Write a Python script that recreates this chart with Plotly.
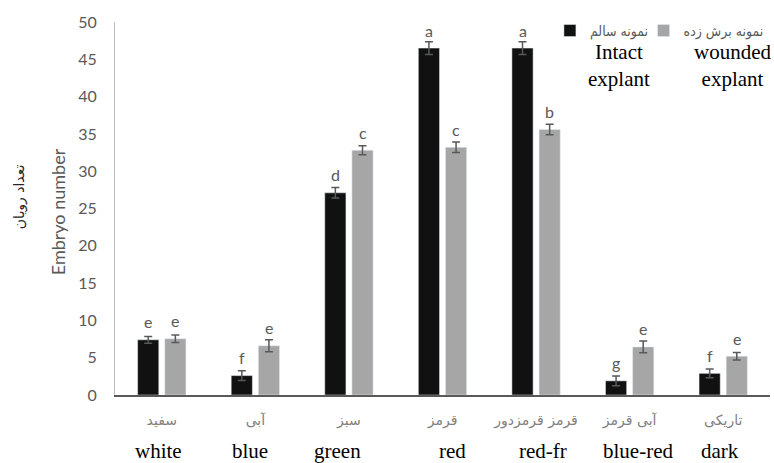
import numpy as np
import plotly.graph_objects as go

# ---- data ----
categories_en = ["white", "blue", "green", "red", "red-fr", "blue-red", "dark"]
categories_fa = ["سفید", "آبی", "سبز", "قرمز", "قرمز قرمزدور", "آبی قرمز", "تاریکی"]
intact = [7.4, 2.6, 27.1, 46.5, 46.5, 1.9, 2.9]
intact_err = [0.45, 0.65, 0.7, 0.85, 0.85, 0.65, 0.6]
intact_letters = ["e", "f", "d", "a", "a", "g", "f"]
wounded = [7.55, 6.6, 32.8, 33.2, 35.6, 6.45, 5.2]
wounded_err = [0.5, 0.8, 0.6, 0.7, 0.7, 0.8, 0.5]
wounded_letters = ["e", "e", "c", "c", "b", "e", "e"]
series_fa = ["نمونه سالم", "نمونه برش زده"]
series_en = ["Intact<br>explant", "wounded<br>explant"]
y_title_en = "Embryo number"
y_title_fa = "تعداد رویان"

# ---- style ----
BARGAP = 0.42
BARGROUPGAP = 0.22
half = (1 - BARGAP) / 4  # center offset of each bar within a group
en_label_xshift = [-3, -5, -11, 10, 7, 8, -3]  # pixel nudges of the English labels

x = np.arange(len(categories_en))
GRAY_TXT = "#595959"
FA_FONT = "DejaVu Sans"
FA_LEG_FONT = "DejaVu Sans Condensed, DejaVu Sans"
NUM_FONT = "Lato, DejaVu Sans"
EN_FONT = "Liberation Serif"

fig = go.Figure()
fig.add_trace(go.Bar(
    x=x, y=intact, name=series_fa[0], marker_color="#111111", legend="legend",
    error_y=dict(type="data", array=intact_err, color=GRAY_TXT, thickness=1.5, width=4),
))
fig.add_trace(go.Bar(
    x=x, y=wounded, name=series_fa[1], marker_color="#a6a6a6", legend="legend2",
    error_y=dict(type="data", array=wounded_err, color=GRAY_TXT, thickness=1.5, width=4),
))

ann = []
for i in range(len(x)):
    ann.append(dict(x=x[i] - half, y=intact[i], text=intact_letters[i], showarrow=False,
                    xref="x", yref="y", yanchor="middle", yshift=18,
                    font=dict(family=NUM_FONT, size=16, color=GRAY_TXT)))
    ann.append(dict(x=x[i] + half, y=wounded[i], text=wounded_letters[i], showarrow=False,
                    xref="x", yref="y", yanchor="middle", yshift=18,
                    font=dict(family=NUM_FONT, size=16, color=GRAY_TXT)))
    ann.append(dict(x=x[i], y=-0.151, text=categories_en[i], showarrow=False,
                    xref="x", yref="paper", yanchor="middle", xshift=en_label_xshift[i],
                    font=dict(family=EN_FONT, size=21, color="#000000")))

ann.append(dict(x=0.7695, y=0.956, text=series_en[0], showarrow=False, xref="paper", yref="paper",
                yanchor="top", xanchor="center",
                font=dict(family=EN_FONT, size=21, color="#000000")))
ann.append(dict(x=0.942, y=0.956, text=series_en[1], showarrow=False, xref="paper", yref="paper",
                yanchor="top", xanchor="center",
                font=dict(family=EN_FONT, size=21, color="#000000")))
ann.append(dict(x=-0.087, y=0.49, text=y_title_en, showarrow=False, xref="paper", yref="paper",
                textangle=-90, xanchor="center", yanchor="middle",
                font=dict(family=NUM_FONT, size=18, color=GRAY_TXT)))
ann.append(dict(x=-0.1466, y=0.533, text=y_title_fa, showarrow=False, xref="paper", yref="paper",
                textangle=-90, xanchor="center", yanchor="middle",
                font=dict(family=FA_FONT, size=14, color="#262626")))

legend_style = dict(orientation="h", y=1.019, xanchor="left", yanchor="top",
                    font=dict(family=FA_LEG_FONT, size=14, color=GRAY_TXT),
                    itemwidth=30, bgcolor="rgba(0,0,0,0)")

fig.update_layout(
    width=774, height=463,
    margin=dict(l=115, r=4, t=22, b=68, autoexpand=False),
    paper_bgcolor="white", plot_bgcolor="white",
    barmode="group", bargap=BARGAP, bargroupgap=BARGROUPGAP,
    showlegend=True,
    legend=dict(x=0.664, **legend_style),
    legend2=dict(x=0.807, **legend_style),
    annotations=ann,
    xaxis=dict(range=[-0.5, len(x) - 0.5], tickvals=x, ticktext=categories_fa,
               showline=True, linecolor=GRAY_TXT, linewidth=1.5, ticks="",
               showgrid=False, zeroline=False, ticklabelstandoff=11,
               tickfont=dict(family=FA_FONT, size=14, color="#808080")),
    yaxis=dict(range=[0, 50], dtick=5, showline=True, linecolor="#bfbfbf", linewidth=1,
               ticks="", showgrid=False, zeroline=False, ticklabelstandoff=14,
               tickfont=dict(family=NUM_FONT, size=16, color=GRAY_TXT)),
)

fig.write_html("out.html", config={"displayModeBar": False},
               post_script="document.body.style.margin='0px';")
